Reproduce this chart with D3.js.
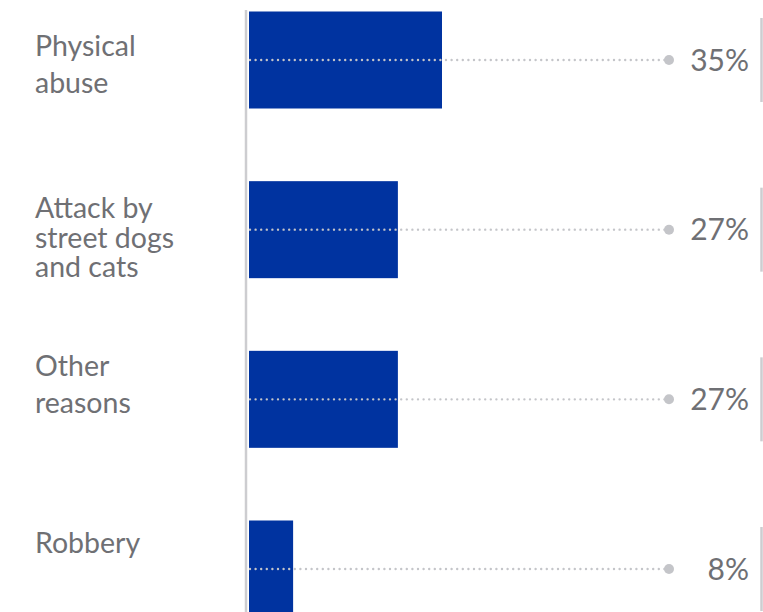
<!DOCTYPE html>
<html>
<head>
<meta charset="utf-8">
<script src="https://cdn.jsdelivr.net/npm/d3@7"></script>
<style>
  html, body { margin: 0; padding: 0; background: #ffffff; }
  svg { display: block; }
</style>
</head>
<body>
<svg id="chart" width="763" height="612"></svg>
<script>
// Reasons, one entry per row (label lines split where they wrap)
const categories = ["Physical abuse", "Attack by street dogs and cats", "Other reasons", "Robbery"];
const labelLines = [["Physical", "abuse"], ["Attack by", "street dogs", "and cats"], ["Other", "reasons"], ["Robbery"]];
const values = [35, 27, 27, 8];
const valueLabels = ["35%", "27%", "27%", "8%"];

// Layout
const W = 763, H = 612;
const barLeft = 249, barRight35 = 442;
const rowTop = 60, rowBottom = 569;
const barHeight = 97;
const dotX = 669;
const pctRight = 749;
const sideLineX = 761.5, sideLineHalf = 42;
const labelX = 35;
const labelLeading = [37, 29.5, 37, 37];
const labelBaselineShift = [-4, -11.5, -23.5, -16];

const BLUE = "#0033a0";
const GREY_TEXT = "#6f7074";
const GREY_LINE = "#cdcdd0";
const DOT = "#c4c5c9";
const FONT = "Lato, 'Open Sans', sans-serif";

const svg = d3.select("#chart");

const x = d3.scaleLinear().domain([0, d3.max(values)]).range([barLeft, barRight35]);
const y = d3.scalePoint().domain(categories).range([rowTop, rowBottom]);

const rows = categories.map((c, i) => ({ cat: c, lines: labelLines[i], value: values[i], label: valueLabels[i], i }));

// left axis rule
svg.append("line")
  .attr("x1", 246).attr("x2", 246)
  .attr("y1", 10).attr("y2", H)
  .attr("stroke", GREY_LINE).attr("stroke-width", 2.5);

// bars
svg.append("g").selectAll("rect").data(rows).join("rect")
  .attr("x", x(0))
  .attr("y", d => y(d.cat) - barHeight / 2)
  .attr("width", d => x(d.value) - x(0))
  .attr("height", barHeight)
  .attr("fill", BLUE);

// dotted leader lines
svg.append("g").selectAll("line").data(rows).join("line")
  .attr("x1", x(0) + 1).attr("x2", dotX)
  .attr("y1", d => y(d.cat)).attr("y2", d => y(d.cat))
  .attr("stroke", DOT)
  .attr("stroke-width", 2.4)
  .attr("stroke-linecap", "round")
  .attr("stroke-dasharray", "0,5.6");

// end dots
svg.append("g").selectAll("circle").data(rows).join("circle")
  .attr("cx", dotX)
  .attr("cy", d => y(d.cat))
  .attr("r", 5)
  .attr("fill", DOT);

// value labels
svg.append("g").selectAll("text").data(rows).join("text")
  .attr("x", pctRight)
  .attr("y", d => y(d.cat))
  .attr("dy", "0.36em")
  .attr("text-anchor", "end")
  .attr("font-family", FONT)
  .attr("font-size", 30)
  .attr("fill", GREY_TEXT)
  .text(d => d.label);

// right-hand rules
svg.append("g").selectAll("line").data(rows).join("line")
  .attr("x1", sideLineX).attr("x2", sideLineX)
  .attr("y1", d => y(d.cat) - sideLineHalf)
  .attr("y2", d => y(d.cat) + sideLineHalf)
  .attr("stroke", GREY_LINE).attr("stroke-width", 2.5);

// category labels
const lab = svg.append("g").selectAll("text").data(rows).join("text")
  .attr("font-family", FONT)
  .attr("font-size", 28.5)
  .attr("fill", GREY_TEXT);
lab.selectAll("tspan").data(d => d.lines.map((t, k) => ({ t, k, row: d }))).join("tspan")
  .attr("x", labelX)
  .attr("y", d => y(d.row.cat) + labelBaselineShift[d.row.i] + d.k * labelLeading[d.row.i])
  .text(d => d.t);
</script>
</body>
</html>
